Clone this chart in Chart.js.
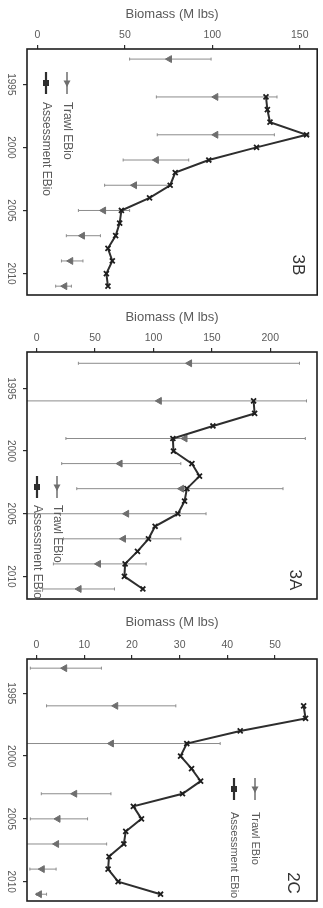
<!DOCTYPE html>
<html>
<head>
<meta charset="utf-8">
<script src="https://cdn.jsdelivr.net/npm/chart.js@4.4.0/dist/chart.umd.min.js"></script>
<style>
  body { margin: 0; background: #fff; }
  .panel { position: absolute; left: 0; }
</style>
</head>
<body>
<div class="panel" style="top:0"><canvas id="c3B" width="323" height="302"></canvas></div>
<div class="panel" style="top:302px"><canvas id="c3A" width="323" height="304"></canvas></div>
<div class="panel" style="top:606px"><canvas id="c2C" width="323" height="302"></canvas></div>
<script>
// years (shared)
const yearTicks = [1995, 2000, 2005, 2010];
const assessYears = [1996, 1997, 1998, 1999, 2000, 2001, 2002, 2003, 2004, 2005, 2006, 2007, 2008, 2009, 2010, 2011];

// 3B
const xTicks3B = [0, 50, 100, 150];
const trawlYears3B = [1993, 1996, 1999, 2001, 2003, 2005, 2007, 2009, 2011];
const trawl3B = [75.5, 102, 102, 68, 55.5, 37.8, 25.7, 19, 15.6];
const trawlLo3B = [52.7, 68, 68.5, 49, 38.4, 23.4, 16.5, 13.7, 10.4];
const trawlHi3B = [99.3, 137, 135.5, 86.5, 75.5, 52.7, 36, 26, 19.4];
const assess3B = [130.7, 131.5, 133, 153.9, 125.3, 98, 78.8, 75.9, 64.1, 48, 47, 44.7, 40.3, 42.8, 39.4, 40.3];

// 3A
const xTicks3A = [0, 50, 100, 150, 200];
const trawlYears3A = [1993, 1996, 1999, 2001, 2003, 2005, 2007, 2009, 2011];
const trawl3A = [130.9, 105, 127, 71.4, 124, 77, 74.3, 52.9, 36.3];
const trawlLo3A = [35.7, -20, 25, 21.4, 34.3, -20, 22.9, 14.3, 5.1];
const trawlHi3A = [225, 231, 230, 123.4, 210.9, 145, 123.4, 93.7, 66.6];
const assess3A = [185.7, 186.6, 150.9, 116.6, 117.1, 132.9, 139.4, 128.6, 126.6, 120.9, 101.4, 95.7, 86.3, 75.7, 75.1, 90.9];

// 2C
const xTicks2C = [0, 10, 20, 30, 40, 50];
const trawlYears2C = [1993, 1996, 1999, 2003, 2005, 2007, 2009, 2011];
const trawl2C = [5.9, 16.6, 15.7, 8.0, 4.5, 4.2, 1.2, 0.6];
const trawlLo2C = [-1.3, 2.1, -5, 1.0, -1.3, -5, -1.4, 0];
const trawlHi2C = [13.6, 29.2, 38.5, 15.6, 10.7, 14.7, 4.1, 2.1];
const assess2C = [56, 56.4, 42.7, 31.5, 30.2, 32.5, 34.4, 30.6, 20.3, 22.0, 18.7, 18.3, 15.2, 15.0, 17.1, 26];

Chart.defaults.font.family = '"Liberation Sans", Arial, sans-serif';
Chart.defaults.color = '#5a5a5a';

const TEXT = '#5a5a5a';
const DARK = '#2e2e2e';
const GREY = '#6e6e6e';
const BAR = '#8c8c8c';

function errorBarPoints(years, lo, hi) {
  const pts = [];
  years.forEach((yr, i) => {
    pts.push({ x: lo[i], y: yr }, { x: hi[i], y: yr }, { x: null, y: null });
  });
  return pts;
}

// frame round the plot area
const framePlugin = {
  id: 'frame',
  afterDatasetsDraw(chart) {
    const a = chart.chartArea, ctx = chart.ctx;
    ctx.save();
    ctx.strokeStyle = '#1e1e1e';
    ctx.lineWidth = 1.6;
    ctx.strokeRect(a.left, a.top, a.right - a.left, a.bottom - a.top);
    ctx.restore();
  }
};

// rotated legend + panel label
const sideTextPlugin = {
  id: 'sideText',
  afterDraw(chart, args, o) {
    const a = chart.chartArea, ctx = chart.ctx;
    ctx.save();
    const items = [
      { x: o.trawlX, text: 'Trawl EBio', color: GREY, lw: 1.5, tri: true },
      { x: o.assessX, text: 'Assessment EBio', color: DARK, lw: 2.2, tri: false }
    ];
    items.forEach(it => {
      const cx = a.left + it.x, cy = a.top + o.symY;
      ctx.strokeStyle = it.color;
      ctx.fillStyle = it.color;
      ctx.lineWidth = it.lw;
      ctx.beginPath();
      ctx.moveTo(cx, cy - 11);
      ctx.lineTo(cx, cy + 11);
      ctx.stroke();
      ctx.beginPath();
      if (it.tri) {
        ctx.moveTo(cx, cy + 4);
        ctx.lineTo(cx - 3.5, cy - 2.5);
        ctx.lineTo(cx + 3.5, cy - 2.5);
      } else {
        ctx.rect(cx - 3, cy - 3, 6, 6);
      }
      ctx.closePath();
      ctx.fill();
      ctx.save();
      ctx.translate(cx, a.top + o.textY);
      ctx.rotate(Math.PI / 2);
      ctx.fillStyle = TEXT;
      ctx.font = o.font || '12px "Liberation Sans", Arial, sans-serif';
      ctx.textAlign = 'left';
      ctx.textBaseline = 'middle';
      ctx.fillText(it.text, 0, 0);
      ctx.restore();
    });
    ctx.translate(a.left + o.labelX, a.top + o.labelY);
    ctx.rotate(Math.PI / 2);
    ctx.fillStyle = '#333';
    ctx.font = '17px "Liberation Sans", Arial, sans-serif';
    ctx.textAlign = 'center';
    ctx.textBaseline = 'middle';
    ctx.fillText(o.label, 0, 0);
    ctx.restore();
  }
};

function makePanel(id, p) {
  return new Chart(document.getElementById(id), {
    type: 'scatter',
    data: {
      datasets: [
        {
          label: 'Assessment EBio',
          data: assessYears.map((yr, i) => ({ x: p.assess[i], y: yr })),
          showLine: true,
          borderColor: DARK,
          borderWidth: 2,
          pointStyle: 'crossRot',
          pointRadius: 3.5,
          pointBorderWidth: 1.8,
          pointBorderColor: '#1e1e1e',
          pointBackgroundColor: '#1e1e1e'
        },
        {
          label: 'Trawl EBio',
          data: p.trawlYears.map((yr, i) => ({ x: p.trawl[i], y: yr })),
          pointStyle: 'triangle',
          rotation: -90,
          pointRadius: 4,
          backgroundColor: GREY,
          borderColor: GREY,
          borderWidth: 1
        },
        {
          label: 'Trawl error',
          data: errorBarPoints(p.trawlYears, p.lo, p.hi),
          showLine: true,
          borderColor: BAR,
          borderWidth: 1,
          pointStyle: 'line',
          rotation: 90,
          pointRadius: 1.5,
          pointBorderColor: BAR,
          pointBorderWidth: 1
        }
      ]
    },
    options: {
      responsive: false,
      animation: false,
      layout: { padding: { left: 0, right: p.padR, top: 0, bottom: p.padB } },
      plugins: {
        legend: { display: false },
        tooltip: { enabled: false },
        sideText: p.side
      },
      scales: {
        x: {
          type: 'linear',
          position: 'top',
          min: p.xMin,
          max: p.xMax,
          afterBuildTicks: s => { s.ticks = p.xTicks.map(v => ({ value: v })); },
          afterFit: s => { s.height = p.axisH; },
          grid: { drawOnChartArea: false, drawTicks: true, tickLength: 4, color: DARK, lineWidth: 1.2 },
          border: { display: false },
          ticks: { color: TEXT, font: { size: 10.5 }, padding: 4, maxRotation: 0, callback: v => String(v) },
          title: {
            display: true,
            text: 'Biomass (M lbs)',
            color: TEXT,
            font: { size: 13 },
            padding: { top: p.titleTop, bottom: 0 }
          }
        },
        y: {
          type: 'linear',
          position: 'left',
          reverse: true,
          min: p.yMin,
          max: p.yMax,
          afterBuildTicks: s => { s.ticks = yearTicks.map(v => ({ value: v })); },
          afterFit: s => { s.width = p.axisW; },
          grid: { drawOnChartArea: false, drawTicks: true, tickLength: 4, color: DARK, lineWidth: 1.2 },
          border: { display: false },
          ticks: {
            color: TEXT, font: { size: 10 }, padding: 1,
            minRotation: -90, maxRotation: -90, crossAlign: 'center',
            callback: v => String(v)
          }
        }
      }
    },
    plugins: [framePlugin, sideTextPlugin]
  });
}

makePanel('c3B', {
  xTicks: xTicks3B, trawlYears: trawlYears3B, trawl: trawl3B, lo: trawlLo3B, hi: trawlHi3B, assess: assess3B,
  xMin: -6, xMax: 160, yMin: 1992.2, yMax: 2011.7,
  axisH: 49, axisW: 27, padR: 5, padB: 3, titleTop: 7,
  side: { label: '3B', trawlX: 40, assessX: 19, symY: 34, textY: 53, labelX: 271, labelY: 216 }
});

makePanel('c3A', {
  xTicks: xTicks3A, trawlYears: trawlYears3A, trawl: trawl3A, lo: trawlLo3A, hi: trawlHi3A, assess: assess3A,
  xMin: -8.3, xMax: 240, yMin: 1992.1, yMax: 2011.8,
  axisH: 50, axisW: 27, padR: 6, padB: 2, titleTop: 8,
  side: { label: '3A', trawlX: 30, assessX: 10, symY: 135, textY: 153, labelX: 268, labelY: 228 }
});

makePanel('c2C', {
  xTicks: xTicks2C, trawlYears: trawlYears2C, trawl: trawl2C, lo: trawlLo2C, hi: trawlHi2C, assess: assess2C,
  xMin: -2, xMax: 58.8, yMin: 1992.27, yMax: 2011.54,
  axisH: 53, axisW: 27, padR: 6, padB: 2, titleTop: 9,
  side: { label: '2C', trawlX: 228, assessX: 207, symY: 130, textY: 153, labelX: 266, labelY: 224,
          font: '11px "Liberation Sans", Arial, sans-serif' }
});
</script>
</body>
</html>
